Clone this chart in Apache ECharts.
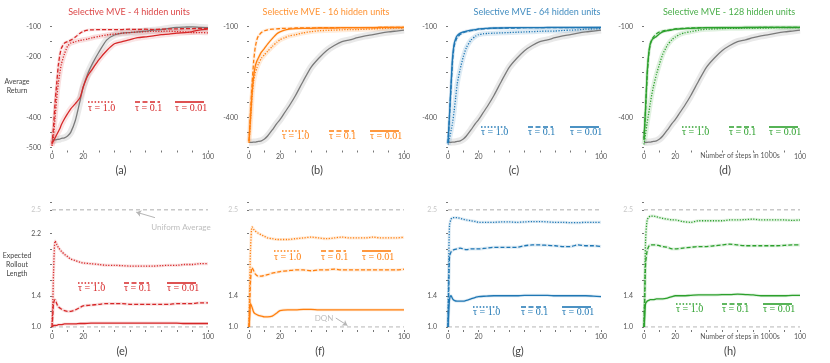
<!DOCTYPE html>
<html>
<head>
<meta charset="utf-8">
<script src="https://cdn.jsdelivr.net/npm/echarts@6/dist/echarts.min.js"></script>
<style>
  html, body { margin: 0; padding: 0; background: #fff; }
  #chart { width: 830px; height: 363px; }
</style>
</head>
<body>
<div id="chart"></div>
<script>
// steps (in 1000s) sampled for each row
const stepsTop = [0, 1, 2, 3, 4, 5, 6, 8, 10, 12, 15, 18, 20, 23, 26, 30, 35, 40, 45, 50, 55, 60, 65, 70, 75, 80, 85, 90, 95, 100]
const stepsBot = [0, 0.5, 1, 2, 3, 4, 6, 8, 10, 12, 15, 18, 20, 25, 30, 35, 40, 45, 50, 55, 60, 65, 70, 75, 80, 85, 90, 95, 100]

// average return (top row)
const dqnReturnA = [-475, -475, -475, -474, -473, -472, -470, -468, -462, -450, -410, -345, -300, -255, -222, -185, -145, -128, -122, -120, -118, -115, -112, -110, -106, -103, -102, -101, -103, -104]
const dqnReturn = [-483, -483, -483, -482, -482, -481, -480, -478, -472, -462, -442, -420, -408, -385, -362, -328, -280, -235, -205, -180, -163, -150, -144, -137, -131, -127, -122, -118, -115, -112]

const retA1 = [-495, -460, -400, -340, -290, -255, -225, -190, -165, -155, -150, -146, -144, -141, -137, -133, -128, -125, -122, -120, -118, -117, -116, -116, -115, -117, -118, -120, -120, -121]
const retA01 = [-490, -430, -350, -290, -230, -195, -172, -155, -150, -145, -135, -122, -116, -112, -111, -110, -110, -110, -110, -109, -110, -109, -110, -109, -108, -108, -107, -107, -106, -107]
const retA001 = [-485, -478, -468, -458, -448, -438, -425, -405, -388, -372, -355, -335, -300, -262, -240, -210, -180, -157, -150, -143, -137, -134, -131, -127, -125, -122, -120, -117, -111, -108]

const retB1 = [-485, -410, -330, -280, -255, -238, -225, -205, -193, -182, -166, -152, -144, -137, -131, -127, -121, -117, -114, -113, -112, -111, -110, -110, -109, -108, -107, -106, -105, -105]
const retB01 = [-480, -380, -290, -215, -170, -145, -132, -120, -114, -111, -109, -108, -107, -106, -106, -105, -105, -105, -104, -104, -104, -104, -104, -104, -104, -104, -103, -103, -103, -103]
const retB001 = [-480, -400, -320, -265, -232, -215, -204, -185, -172, -158, -140, -124, -118, -112, -109, -107, -106, -106, -105, -105, -105, -104, -104, -104, -104, -104, -103, -103, -103, -103]

const retC1 = [-490, -470, -445, -418, -380, -335, -290, -240, -200, -170, -145, -132, -127, -124, -123, -122, -121, -120, -119, -118, -117, -116, -115, -115, -113, -112, -111, -109, -108, -107]
const retC01 = [-485, -395, -300, -212, -165, -148, -137, -126, -120, -117, -114, -111, -109, -108, -107, -106, -105, -105, -105, -104, -104, -104, -104, -104, -104, -104, -104, -104, -104, -104]
const retC001 = [-485, -390, -290, -200, -158, -140, -130, -122, -118, -115, -112, -110, -108, -107, -106, -105, -105, -104, -104, -104, -104, -104, -103, -103, -103, -103, -103, -103, -103, -103]

const retD1 = [-490, -455, -420, -387, -355, -325, -300, -258, -223, -192, -162, -143, -135, -126, -121, -117, -112, -109, -108, -107, -106, -106, -105, -105, -105, -105, -104, -104, -104, -104]
const retD01 = [-475, -375, -265, -195, -160, -145, -135, -124, -118, -115, -112, -110, -108, -107, -106, -105, -104, -104, -104, -104, -104, -104, -104, -104, -103, -103, -103, -103, -103, -103]
const retD001 = [-470, -370, -255, -190, -157, -145, -140, -133, -124, -118, -114, -111, -109, -108, -107, -106, -105, -104, -104, -104, -104, -104, -103, -103, -103, -103, -103, -103, -103, -103]

// expected rollout length (bottom row)
const lenE1 = [1.0, 1.3, 1.7, 2.1, 2.06, 2.02, 1.97, 1.93, 1.9, 1.87, 1.85, 1.83, 1.82, 1.81, 1.8, 1.79, 1.79, 1.785, 1.78, 1.78, 1.78, 1.78, 1.785, 1.79, 1.79, 1.8, 1.8, 1.81, 1.81]
const lenE01 = [1.0, 1.15, 1.3, 1.35, 1.3, 1.26, 1.23, 1.21, 1.2, 1.2, 1.22, 1.25, 1.27, 1.28, 1.29, 1.3, 1.3, 1.3, 1.29, 1.29, 1.29, 1.29, 1.29, 1.29, 1.3, 1.3, 1.3, 1.31, 1.31]
const lenE001 = [1.0, 1.01, 1.02, 1.02, 1.02, 1.03, 1.03, 1.04, 1.04, 1.04, 1.04, 1.045, 1.045, 1.05, 1.05, 1.05, 1.05, 1.05, 1.05, 1.05, 1.05, 1.05, 1.05, 1.05, 1.05, 1.045, 1.045, 1.045, 1.045]

const lenF1 = [1.0, 1.6, 2.0, 2.28, 2.25, 2.23, 2.2, 2.18, 2.16, 2.14, 2.13, 2.12, 2.12, 2.12, 2.13, 2.14, 2.15, 2.14, 2.13, 2.14, 2.15, 2.14, 2.14, 2.14, 2.15, 2.14, 2.14, 2.14, 2.15]
const lenF01 = [1.0, 1.3, 1.6, 1.76, 1.72, 1.68, 1.65, 1.65, 1.66, 1.67, 1.69, 1.7, 1.71, 1.72, 1.73, 1.73, 1.72, 1.73, 1.73, 1.74, 1.73, 1.73, 1.73, 1.73, 1.73, 1.73, 1.73, 1.73, 1.74]
const lenF001 = [1.0, 1.15, 1.3, 1.25, 1.19, 1.17, 1.15, 1.14, 1.13, 1.13, 1.14, 1.18, 1.21, 1.22, 1.22, 1.225, 1.225, 1.22, 1.22, 1.22, 1.22, 1.22, 1.22, 1.22, 1.22, 1.22, 1.22, 1.22, 1.22]

const lenG1 = [1.0, 1.8, 2.3, 2.38, 2.4, 2.4, 2.4, 2.39, 2.38, 2.37, 2.36, 2.35, 2.34, 2.34, 2.34, 2.345, 2.345, 2.34, 2.345, 2.35, 2.35, 2.345, 2.34, 2.34, 2.335, 2.335, 2.34, 2.34, 2.34]
const lenG01 = [1.0, 1.5, 1.9, 1.96, 1.98, 1.99, 2.0, 2.01, 2.0, 1.99, 2.0, 2.0, 2.0, 2.01, 2.02, 2.02, 2.02, 2.02, 2.04, 2.05, 2.05, 2.045, 2.04, 2.03, 2.03, 2.05, 2.04, 2.04, 2.03]
const lenG001 = [1.0, 1.2, 1.35, 1.4, 1.36, 1.34, 1.33, 1.33, 1.33, 1.34, 1.36, 1.38, 1.39, 1.395, 1.4, 1.4, 1.4, 1.4, 1.405, 1.405, 1.405, 1.405, 1.4, 1.4, 1.4, 1.4, 1.4, 1.395, 1.39]

const lenH1 = [1.0, 1.5, 2.1, 2.37, 2.4, 2.42, 2.42, 2.41, 2.4, 2.39, 2.38, 2.37, 2.37, 2.35, 2.34, 2.36, 2.36, 2.36, 2.36, 2.37, 2.37, 2.375, 2.38, 2.37, 2.37, 2.37, 2.37, 2.365, 2.37]
const lenH01 = [1.0, 1.4, 1.8, 1.97, 2.03, 2.05, 2.05, 2.05, 2.04, 2.03, 2.02, 2.0, 2.0, 2.01, 2.02, 2.03, 2.03, 2.04, 2.05, 2.06, 2.05, 2.04, 2.04, 2.04, 2.04, 2.04, 2.045, 2.05, 2.05]
const lenH001 = [1.0, 1.15, 1.3, 1.33, 1.34, 1.35, 1.35, 1.36, 1.36, 1.36, 1.37, 1.39, 1.4, 1.4, 1.405, 1.41, 1.41, 1.41, 1.415, 1.415, 1.42, 1.415, 1.41, 1.4, 1.4, 1.4, 1.4, 1.405, 1.405]

// reference levels in the bottom row
const uniformAverage = 2.5
const dqnLength = 1.0

// tick labels
const xTicks = [0, 10, 20, 30, 40, 50, 60, 70, 80, 90, 100]
const xLabels = [0, 20, 100]
const yTicksTop = [-500, -450, -400, -350, -300, -250, -200, -150, -100]
const yLabelsTopA = [-500, -400, -200, -100]
const yLabelsTop = [-400, -100]
const yTicksBot = [1.0, 1.2, 1.4, 1.6, 1.8, 2.0, 2.2, 2.5, 2.6]
const yLabelsBotE = [1.0, 1.4, 2.2, 2.5]
const yLabelsBot = [1.0, 1.4, 2.5]

const titles = ['Selective MVE - 4 hidden units', 'Selective MVE - 16 hidden units', 'Selective MVE - 64 hidden units', 'Selective MVE - 128 hidden units']
const letters = ['(a)', '(b)', '(c)', '(d)', '(e)', '(f)', '(g)', '(h)']
const tauNames = ['τ = 1.0', 'τ = 0.1', 'τ = 0.01']

const RED = '#d62728', ORANGE = '#ff7f0e', BLUE = '#1f77b4', GREEN = '#2ca02c'
const colors = [RED, ORANGE, BLUE, GREEN]
const DOT = [1.2, 1.5], DASH = [4, 2]
const sans = 'Lato'

const cols = [
  { left: 52, width: 156 },
  { left: 249, width: 155 },
  { left: 448, width: 153 },
  { left: 644, width: 156 }
]

const grids = []
const xAxes = []
const yAxes = []
const series = []

cols.forEach(c => grids.push({ left: c.left, width: c.width, top: 26.5, height: 121 }))
cols.forEach(c => grids.push({ left: c.left, width: c.width, top: 202, height: 125 }))

const axisText = { color: '#555', fontSize: 7, fontFamily: sans }

grids.forEach((g, i) => {
  const top = i < 4
  xAxes.push({
    type: 'value', gridIndex: i, min: 0, max: 100, offset: 3,
    axisLine: { show: false },
    splitLine: { show: false },
    axisTick: { show: true, length: 2, customValues: xTicks, lineStyle: { color: '#777' } },
    axisLabel: Object.assign({ customValues: xLabels, margin: 3 }, axisText)
  })
  const labelVals = top ? (i === 0 ? yLabelsTopA : yLabelsTop) : (i === 4 ? yLabelsBotE : yLabelsBot)
  yAxes.push({
    type: 'value', gridIndex: i,
    min: top ? -500 : 1.0, max: top ? -100 : 2.6,
    offset: 7,
    axisLine: { show: false },
    splitLine: { show: false },
    axisTick: { show: true, length: 2, customValues: top ? yTicksTop : yTicksBot, lineStyle: { color: '#777' } },
    axisLabel: Object.assign({
      customValues: labelVals, margin: 4,
      formatter: v => top ? String(v) : (Math.abs(v - 2.5) < 1e-6 ? '{l|2.5}' : v.toFixed(1)),
      rich: { l: { color: '#c8c8c8', fontSize: 7, fontFamily: sans } }
    }, axisText)
  })
})

function pairs(xs, ys) {
  return xs.map((x, i) => [x, ys[i]])
}

function addCurve(idx, xs, ys, color, dash, opt) {
  opt = opt || {}
  const data = pairs(xs, ys)
  if (opt.halo) {
    series.push({
      type: 'line', xAxisIndex: idx, yAxisIndex: idx, data, symbol: 'none',
      smooth: opt.smooth, silent: true, z: 1,
      lineStyle: { color: opt.haloColor || color, width: opt.halo, opacity: opt.haloOpacity || 0.12 }
    })
  }
  series.push({
    type: 'line', xAxisIndex: idx, yAxisIndex: idx, data, symbol: 'none',
    smooth: opt.smooth, z: opt.z || 3,
    lineStyle: { color, width: opt.width || 1.3, type: dash }
  })
}

// top row
const topSets = [
  [dqnReturnA, retA1, retA01, retA001],
  [dqnReturn, retB1, retB01, retB001],
  [dqnReturn, retC1, retC01, retC001],
  [dqnReturn, retD1, retD01, retD001]
]
topSets.forEach((s, i) => {
  const c = colors[i]
  addCurve(i, stepsTop, s[0], '#7a7a7a', 'solid', { smooth: 0.2, halo: 7, haloColor: '#cfcfcf', haloOpacity: 0.45, z: 2 })
  addCurve(i, stepsTop, s[1], c, DOT, { smooth: 0.2, halo: 5, haloOpacity: 0.15 })
  addCurve(i, stepsTop, s[2], c, DASH, { smooth: 0.2, halo: 3 })
  addCurve(i, stepsTop, s[3], c, 'solid', { smooth: 0.2, halo: i === 0 ? 6 : 3, haloOpacity: 0.12 })
})

// bottom row
const botSets = [
  [lenE1, lenE01, lenE001],
  [lenF1, lenF01, lenF001],
  [lenG1, lenG01, lenG001],
  [lenH1, lenH01, lenH001]
]
botSets.forEach((s, j) => {
  const i = j + 4
  const c = colors[j]
  const refStyle = { color: '#c8c8c8', width: 1.5, type: [4, 3] }
  const uni = {
    type: 'line', xAxisIndex: i, yAxisIndex: i, symbol: 'none', z: 1,
    data: [[0, uniformAverage], [100, uniformAverage]], lineStyle: refStyle
  }
  const dqn = {
    type: 'line', xAxisIndex: i, yAxisIndex: i, symbol: 'none', z: 1,
    data: [[0, dqnLength], [100, dqnLength]], lineStyle: refStyle
  }
  if (j === 0) {
    uni.markLine = {
      silent: true, symbol: ['none', 'arrow'], symbolSize: 5, label: { show: false },
      lineStyle: { color: '#b5b5b5', type: 'solid', width: 1 },
      data: [[{ coord: [66, 2.4] }, { coord: [54, 2.47] }]]
    }
  }
  if (j === 1) {
    dqn.markLine = {
      silent: true, symbol: ['none', 'arrow'], symbolSize: 5, label: { show: false },
      lineStyle: { color: '#b5b5b5', type: 'solid', width: 1, curveness: -0.4 },
      data: [[{ coord: [56, 1.115] }, { coord: [63.5, 1.02] }]]
    }
  }
  series.push(uni, dqn)
  addCurve(i, stepsBot, s[0], c, DOT, { smooth: 0.3, halo: 3, haloOpacity: 0.15 })
  addCurve(i, stepsBot, s[1], c, DASH, { smooth: 0.3, halo: 3, haloOpacity: 0.15 })
  addCurve(i, stepsBot, s[2], c, 'solid', { smooth: 0.3, halo: 3, haloOpacity: 0.15 })
})

// text and legends
const graphic = []
const titleX = [129, 326, 537, 729]
titles.forEach((t, i) => graphic.push({
  type: 'text', x: titleX[i], y: 12,
  style: { text: t, fill: colors[i], font: '9px ' + sans, textAlign: 'center', textVerticalAlign: 'middle', align: 'center', verticalAlign: 'middle', opacity: 0.85 }
}))
const letterX = [121, 317, 514, 725, 122, 320, 518, 730]
letters.forEach((t, i) => graphic.push({
  type: 'text', x: letterX[i], y: i < 4 ? 170 : 351,
  style: { text: t, fill: '#444', font: '11px ' + sans, textAlign: 'center', textVerticalAlign: 'middle', align: 'center', verticalAlign: 'middle' }
}))
function label(text, x, y, size, color, align) {
  graphic.push({
    type: 'text', x, y,
    style: { text, fill: color, font: size + 'px ' + sans, textAlign: align || 'center', textVerticalAlign: 'middle', align: align || 'center', verticalAlign: 'middle' }
  })
}
label('Average', 17, 82, 7, '#444')
label('Return', 17, 91, 7, '#444')
label('Expected', 17, 256, 7, '#444')
label('Rollout', 17, 265, 7, '#444')
label('Length', 17, 274, 7, '#444')
label('Number of steps in 1000s', 740, 156, 7, '#555')
label('Number of steps in 1000s', 740, 337, 7, '#555')
label('Uniform Average', 181, 227, 8, '#bdbdbd')
label('DQN', 324, 318, 8, '#bdbdbd')

const legendPos = [
  { xs: [88, 135, 175], yl: 102, yt: 108 },
  { xs: [282, 329, 370], yl: 131, yt: 136 },
  { xs: [481, 528, 570], yl: 127, yt: 132 },
  { xs: [682, 729, 769], yl: 127, yt: 132 },
  { xs: [78, 124, 167], yl: 283, yt: 288 },
  { xs: [274, 321, 362], yl: 251, yt: 257 },
  { xs: [473, 521, 562], yl: 307, yt: 312 },
  { xs: [676, 722, 763], yl: 304, yt: 309 }
]
const sampleW = [26, 25, 29]
const sampleDash = [[1.5, 1.8], [5, 2.5], null]
legendPos.forEach((p, k) => {
  const c = colors[k % 4]
  p.xs.forEach((x, n) => {
    graphic.push({
      type: 'line', shape: { x1: x, y1: p.yl, x2: x + sampleW[n], y2: p.yl },
      style: { stroke: c, lineWidth: 1.6, lineDash: sampleDash[n] }
    })
    graphic.push({
      type: 'text', x: x, y: p.yt,
      style: { text: tauNames[n], fill: c, font: '10px "Liberation Serif"', textAlign: 'left', textVerticalAlign: 'middle', align: 'left', verticalAlign: 'middle' }
    })
  })
})

const chart = echarts.init(document.getElementById('chart'))
chart.setOption({
  animation: false,
  backgroundColor: '#fff',
  grid: grids,
  xAxis: xAxes,
  yAxis: yAxes,
  series,
  graphic
})
</script>
</body>
</html>
